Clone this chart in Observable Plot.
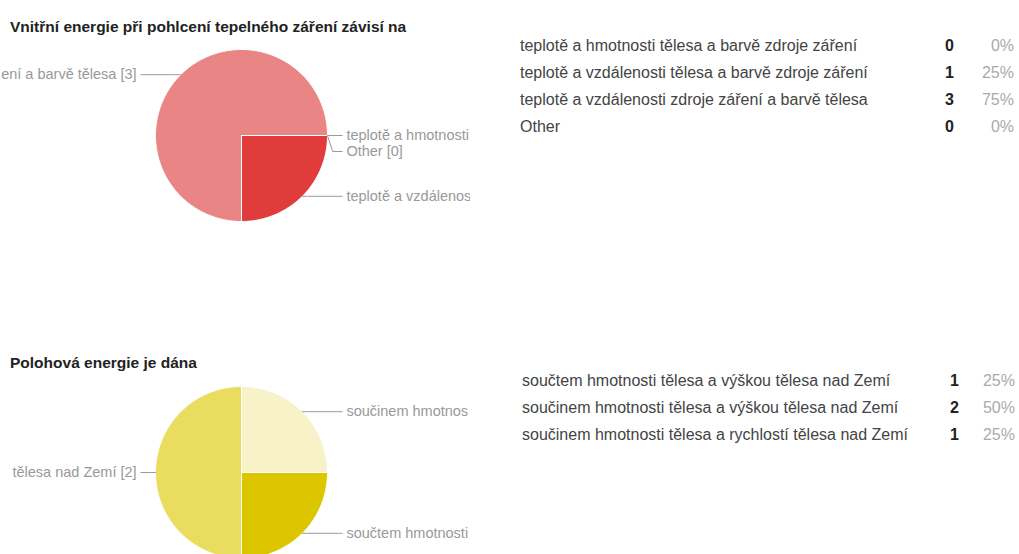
<!DOCTYPE html>
<html>
<head>
<meta charset="utf-8">
<script src="https://cdn.jsdelivr.net/npm/d3@7"></script>
<script src="https://cdn.jsdelivr.net/npm/@observablehq/plot@0.6"></script>
<style>
  html, body { margin: 0; padding: 0; background: #fff; }
  #page { position: relative; width: 1019px; height: 554px; overflow: hidden; font-family: "Liberation Sans", Arial, sans-serif; }
  .title { position: absolute; left: 10px; font-weight: bold; font-size: 15.5px; line-height: 18px; color: #222; white-space: nowrap; }
  .row { position: absolute; height: 27px; line-height: 27px; font-size: 16px; white-space: nowrap; }
  .row span { position: absolute; top: 0; }
  .row .lab { color: #444; }
  .row .cnt { color: #222; font-weight: bold; }
  .row .pct { color: #aaa; text-align: right; width: 50px; }
</style>
</head>
<body>
<div id="page"></div>
<script>
// ---- data ----
const title1 = "Vnitřní energie při pohlcení tepelného záření závisí na";
const categories1 = [
  "teplotě a hmotnosti tělesa a barvě zdroje záření",
  "teplotě a vzdálenosti tělesa a barvě zdroje záření",
  "teplotě a vzdálenosti zdroje záření a barvě tělesa",
  "Other"
];
const counts1 = [0, 1, 3, 0];

const title2 = "Polohová energie je dána";
const categories2 = [
  "součtem hmotnosti tělesa a výškou tělesa nad Zemí",
  "součinem hmotnosti tělesa a výškou tělesa nad Zemí",
  "součinem hmotnosti tělesa a rychlostí tělesa nad Zemí"
];
const counts2 = [1, 2, 1];

// ---- styles ----
const palette1 = ["#f4b5b5", "#e03c3c", "#e98585", "#f2c9c9"];
const palette2 = ["#dcc600", "#e9dc5e", "#f8f2c9"];
const labelFont = "14.5px 'Liberation Sans', Arial, sans-serif";

const page = document.getElementById("page");
const ctx = document.createElement("canvas").getContext("2d");
ctx.font = labelFont;

// clip a label to the room the chart area leaves for it (as the original chart does)
function fit(text, room, keepEnd) {
  let t = text;
  while (t.length > 1 && ctx.measureText(t).width > room) {
    t = keepEnd ? t.slice(1) : t.slice(0, -1);
  }
  return t;
}

function pieChart(cats, vals, colors, top) {
  const W = 470, H = 200, cx = 241, cy = 95, r = 86;
  const rows = cats.map((c, i) => ({key: c, value: vals[i], i}));
  const arcs = d3.pie().sort(null).value(d => d.value)
    .startAngle(Math.PI / 2).endAngle(Math.PI / 2 + 2 * Math.PI)(rows);

  // slice polygons (unit radius; clockwise from 12 o'clock)
  const poly = [];
  for (const a of arcs) {
    if (a.data.value <= 0) continue;
    const k = a.data.key;
    poly.push({key: k, x: 0, y: 0});
    const n = Math.max(2, Math.ceil((a.endAngle - a.startAngle) / 0.02));
    for (let j = 0; j <= n; j++) {
      const t = a.startAngle + (a.endAngle - a.startAngle) * j / n;
      poly.push({key: k, x: Math.sin(t), y: Math.cos(t)});
    }
    poly.push({key: k, x: 0, y: 0});
  }

  // labels with leader lines
  const gapY = 16 / r;
  const labs = arcs.map(a => {
    const m = (a.startAngle + a.endAngle) / 2;
    const ex = Math.sin(m), ey = Math.cos(m);
    const side = ex >= -1e-9 ? 1 : -1;
    return {key: a.data.key, full: a.data.key + " [" + a.data.value + "]", ex, ey, side, ly: ey, i: a.index};
  });
  for (const s of [1, -1]) {
    const g = labs.filter(d => d.side === s)
      .sort((a, b) => (Math.round(b.ey * 1000) - Math.round(a.ey * 1000)) || (a.i - b.i));
    for (let j = 1; j < g.length; j++) {
      if (g[j - 1].ly - g[j].ly < gapY) g[j].ly = g[j - 1].ly - gapY;
    }
  }
  const labelX = 1.22, gapX = 0.05;
  const leader = [];
  for (const d of labs) {
    leader.push({key: d.key, x: d.ex, y: d.ey});
    leader.push({key: d.key, x: d.ex + d.side * 0.06, y: d.ly});
    leader.push({key: d.key, x: d.side * (labelX - gapX), y: d.ly});
    d.lx = d.side * labelX;
    const room = d.side > 0 ? (W - (cx + labelX * r)) + 1.1 : (cx - labelX * r);
    d.text = fit(d.full, room, d.side < 0);
  }

  const svg = Plot.plot({
    width: W, height: H, margin: 0,
    x: {domain: [-cx / r, (W - cx) / r], axis: null},
    y: {domain: [-(H - cy) / r, cy / r], axis: null},
    color: {domain: cats, range: colors},
    style: {overflow: "hidden", background: "transparent", fontFamily: "'Liberation Sans', Arial, sans-serif"},
    marks: [
      Plot.line(poly, {x: "x", y: "y", z: "key", fill: "key", stroke: "white", strokeWidth: 1, curve: "linear"}),
      Plot.line(leader, {x: "x", y: "y", z: "key", stroke: "#9a9a9a", strokeWidth: 1}),
      Plot.text(labs.filter(d => d.side > 0), {x: "lx", y: "ly", text: "text", textAnchor: "start", fontSize: 14.5, fill: "#999"}),
      Plot.text(labs.filter(d => d.side < 0), {x: "lx", y: "ly", text: "text", textAnchor: "end", fontSize: 14.5, fill: "#999"})
    ]
  });
  svg.style.position = "absolute";
  svg.style.top = top + "px";
  svg.style.left = "0px";
  page.appendChild(svg);
}

function title(text, top) {
  const d = document.createElement("div");
  d.className = "title";
  d.textContent = text;
  d.style.top = top + "px";
  page.appendChild(d);
}

function table(cats, vals, top, labX, cntX, pctRight) {
  const total = d3.sum(vals);
  cats.forEach((c, i) => {
    const row = document.createElement("div");
    row.className = "row";
    row.style.top = (top + i * 27.3) + "px";
    row.style.left = "0px";
    const l = document.createElement("span"); l.className = "lab"; l.style.left = labX + "px"; l.textContent = c;
    const n = document.createElement("span"); n.className = "cnt"; n.style.left = cntX + "px"; n.textContent = vals[i];
    const p = document.createElement("span"); p.className = "pct"; p.style.left = (pctRight - 50) + "px";
    p.textContent = Math.round(vals[i] / total * 100) + "%";
    row.append(l, n, p);
    page.appendChild(row);
  });
}

title(title1, 18);
pieChart(categories1, counts1, palette1, 40);
table(categories1, counts1, 31.5, 520, 945, 1014);

title(title2, 354);
pieChart(categories2, counts2, palette2, 377);
table(categories2, counts2, 366.5, 522, 950, 1015);
</script>
</body>
</html>
